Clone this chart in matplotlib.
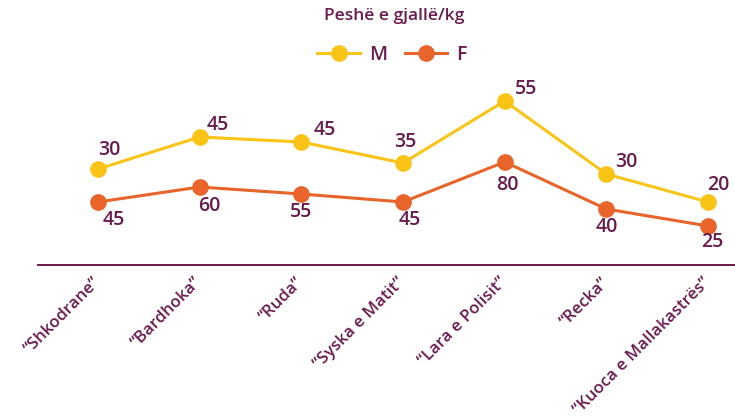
import numpy as np
import matplotlib
matplotlib.use('Agg')
from matplotlib import pyplot as plt
from matplotlib.lines import Line2D

plt.rcParams['font.family'] = ['Open Sans', 'DejaVu Sans']

# data
breeds = ['\u201cShkodrane\u201d', '\u201cBardhoka\u201d', '\u201cRuda\u201d',
          '\u201cSyska e Matit\u201d', '\u201cLara e Polisit\u201d',
          '\u201cRecka\u201d', '\u201cKuoca e Mallakastr\u00ebs\u201d']
# drawn heights of the two lines (the chart does not scale them to the labels)
m_level = [96, 128, 123, 102, 164, 91, 63]
f_level = [63, 78, 71, 63, 103, 56, 39]
# printed labels
m_labels = [30, 45, 45, 35, 55, 30, 20]
f_labels = [45, 60, 55, 45, 80, 40, 25]

# label offsets in pixels (layout only)
m_off = [(11, 19), (18, 12), (23, 12), (2, 21), (21, 12), (20, 12), (10, 17)]
f_off = [(16, -18), (10, -19), (0, -18), (7, -18), (3, -23), (0, -18), (4, -16)]

YELLOW = '#F9C416'
ORANGE = '#E9642A'
PURPLE = '#6A1B4D'

W, H = 735, 418
fig = plt.figure(figsize=(W / 100, H / 100), dpi=100)
ax = fig.add_axes([38 / W, (H - 265) / H, (W - 38) / W, 265 / H])

x = np.arange(len(breeds))
ax.plot(x, m_level, color=YELLOW, lw=2.2, marker='o', ms=11, zorder=3)
ax.plot(x, f_level, color=ORANGE, lw=2.2, marker='o', ms=11, zorder=3)

px = 72 / 100  # pixels -> points
for i in range(len(x)):
    ax.annotate(str(m_labels[i]), (x[i], m_level[i]),
                xytext=(m_off[i][0] * px, m_off[i][1] * px), textcoords='offset points',
                ha='center', va='center', fontsize=14, fontweight='semibold', color=PURPLE)
    ax.annotate(str(f_labels[i]), (x[i], f_level[i]),
                xytext=(f_off[i][0] * px, f_off[i][1] * px), textcoords='offset points',
                ha='center', va='center', fontsize=14, fontweight='semibold', color=PURPLE)

unit = 101.67
ax.set_xlim((38 - 98) / unit, (W - 98) / unit)
ax.set_ylim(0, 265)

for s in ['top', 'right', 'left']:
    ax.spines[s].set_visible(False)
ax.spines['bottom'].set_color(PURPLE)
ax.spines['bottom'].set_linewidth(1.4)
ax.set_yticks([])
ax.set_xticks(x)
ax.set_xticklabels(breeds, rotation=45, ha='right', va='center',
                   rotation_mode='anchor', fontsize=12.2, fontweight='semibold', color=PURPLE)
ax.tick_params(axis='x', length=0, pad=11)
ax.patch.set_visible(False)

fig.text(394 / W, 1 - 16 / H, 'Pesh\u00eb e gjall\u00eb/kg', ha='center', va='center',
         fontsize=12.5, fontweight='semibold', color=PURPLE)

handles = [Line2D([], [], color=YELLOW, lw=2.2, marker='o', ms=11),
           Line2D([], [], color=ORANGE, lw=2.2, marker='o', ms=11)]
leg = fig.legend(handles, ['M', 'F'], loc='center', bbox_to_anchor=(392 / W, 1 - 55 / H),
                 ncol=2, frameon=False, handlelength=2.2, handletextpad=0.45,
                 columnspacing=0.9, prop={'size': 14, 'weight': 'semibold'})
for t in leg.get_texts():
    t.set_color(PURPLE)

fig.savefig('out.png', dpi=100)
